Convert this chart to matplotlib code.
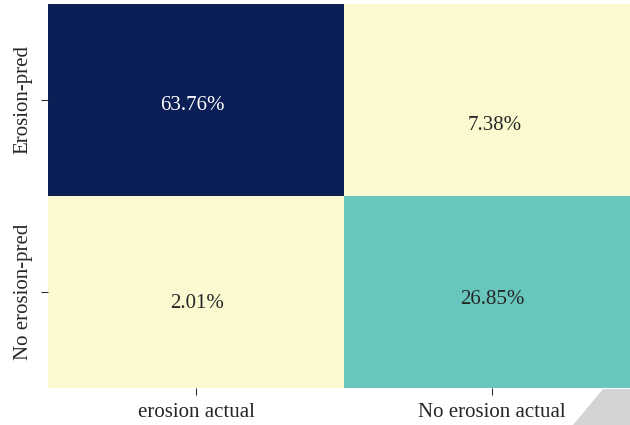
import numpy as np
import matplotlib.pyplot as plt
from matplotlib.patches import Polygon
from matplotlib.colors import LinearSegmentedColormap

row_labels = ['Erosion-pred', 'No erosion-pred']
col_labels = ['erosion actual', 'No erosion actual']
values = np.array([[63.76, 7.38],
                   [2.01, 26.85]])

# the labels in the source sit a little off the cell centres (pixels, x right / y down)
label_shift = [[(-4, 5), (3, 26)],
               [(1, 12), (0, 7)]]

plt.rcParams['font.family'] = ['Liberation Serif', 'DejaVu Serif']

# YlGnBu-like map, matched to the tones in the picture
cmap = LinearSegmentedColormap.from_list(
    'ylgnbu_ref',
    [(0.0, '#fbf9d0'), (0.1, '#fbf9d0'), (0.4, '#67c7bc'), (1.0, '#0b1f56')])

fig = plt.figure(figsize=(6.3, 4.25), dpi=100)
ax = fig.add_axes([48 / 630, 1 - 388 / 425, 592 / 630, 384 / 425])

ax.pcolormesh(values, cmap=cmap, vmin=values.min(), vmax=values.max())
ax.set_xlim(0, 2)
ax.set_ylim(2, 0)

for i in range(2):
    for j in range(2):
        v = values[i, j]
        dx, dy = label_shift[i][j]
        color = 'white' if v > 40 else '#262626'
        ax.annotate(f'{v:.2f}%', (j + 0.5, i + 0.5),
                    xytext=(dx * 0.72, -dy * 0.72), textcoords='offset points',
                    ha='center', va='center', fontsize=15, color=color)

ax.set_xticks([0.5, 1.5])
ax.set_xticklabels(col_labels, fontsize=15, color='#262626')
ax.set_yticks([0.5, 1.5])
ax.set_yticklabels(row_labels, fontsize=15, color='#262626',
                   rotation=90, va='center')
ax.tick_params(length=5, width=0.8, color='#333333', pad=6)
for s in ax.spines.values():
    s.set_visible(False)

# grey page corner in bottom right
corner = Polygon([[603 / 630, 1 - 389 / 425], [1, 1 - 389 / 425],
                  [1, 0], [573 / 630, 0]],
                 closed=True, transform=fig.transFigure,
                 facecolor='#d3d3d3', edgecolor='none', zorder=10)
fig.patches.append(corner)

fig.savefig('out.png', dpi=100)
